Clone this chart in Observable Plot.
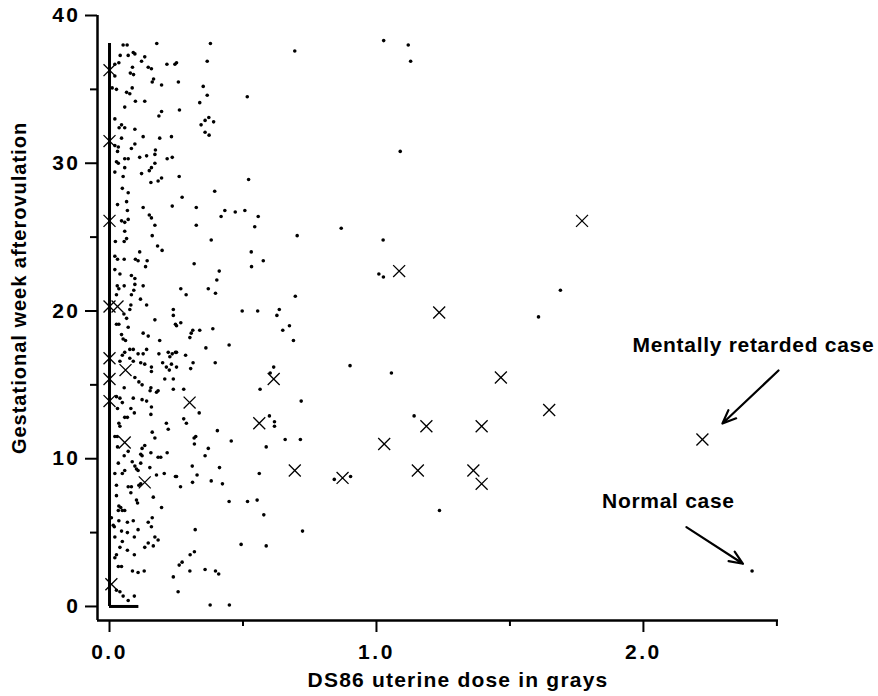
<!DOCTYPE html>
<html><head><meta charset="utf-8">
<script src="https://cdn.jsdelivr.net/npm/d3@7"></script>
<script src="https://cdn.jsdelivr.net/npm/@observablehq/plot@0.6"></script>
<style>
html,body{margin:0;padding:0;background:#fff;}
</style></head><body><div id="chart"></div>
<script>
// [dose (Gy), gestational week] — normal outcomes (dots)
const normalCases = [
[0.378,38.1],[0.694,37.6],[0.251,36.8],[0.366,36.9],[0.258,35.5],[0.351,35.2],[0.366,34.6],[0.516,34.5],[0.338,34.1],[0.262,33.6],[0.372,33.1],[0.358,32.9],[0.390,32.8],[0.343,32.6],[0.358,32.1],[0.373,31.9],[0.261,29.1],[0.521,28.9],[0.394,28.1],[0.272,27.7],[0.325,27.0],[0.432,26.8],[0.471,26.7],[0.507,26.8],[0.418,26.4],[0.557,26.4],[0.325,25.8],[0.544,25.7],
[0.703,25.1],[0.381,24.8],[0.531,24.0],[0.576,23.4],[0.317,23.2],[0.532,23.0],[0.411,22.7],[0.402,22.1],[0.267,21.5],[0.370,21.5],[0.287,21.1],[0.397,21.2],[0.696,21.0],[0.497,20.0],[0.555,20.0],[0.636,20.1],[0.627,19.7],[0.251,19.0],[0.267,19.2],[0.312,18.7],[0.306,18.5],[0.301,18.2],[0.338,18.7],[0.387,18.8],[0.674,19.0],[0.649,18.7],[0.689,18.0],[0.448,17.7],[0.361,17.5],[0.251,17.2],[0.285,17.0],[0.313,16.5],[0.251,16.2],[0.304,16.1],[0.396,16.5],[0.615,16.2],[0.602,15.8],[0.278,14.7],[0.564,14.7],[0.718,13.9],[0.336,13.1],[0.278,12.7],[0.288,12.4],[0.599,12.9],[0.618,12.5],[0.618,12.2],
[0.404,11.9],[0.323,11.5],[0.317,11.4],[0.318,11.0],[0.456,11.2],[0.370,10.7],[0.358,10.2],[0.587,10.8],[0.658,11.3],[0.715,11.3],[0.310,9.5],[0.412,9.4],[0.251,8.8],[0.328,8.9],[0.311,8.4],[0.266,8.1],[0.381,8.5],[0.423,8.3],[0.561,9.0],[0.842,8.6],[0.448,7.1],[0.517,7.1],[0.553,7.2],[0.578,6.2],[0.321,5.2],[0.723,5.1],[0.493,4.2],[0.587,4.1],[0.318,3.7],[0.302,3.5],[0.272,3.0],[0.261,2.8],[0.301,2.4],[0.358,2.5],[0.397,2.4],[0.409,2.2],[0.257,1.0],[0.377,0.1],[0.449,0.1],
[1.027,38.3],[1.119,38.0],[1.128,36.9],[1.089,30.8],[0.868,25.6],[1.025,24.8],[1.009,22.5],[1.026,22.3],[1.689,21.4],[1.607,19.6],[0.901,16.3],[1.056,15.8],[1.141,12.9],[0.903,8.8],[1.236,6.5],[2.407,2.4],
[0.051,38.0],[0.066,38.0],[0.177,38.1],[0.089,37.5],[0.095,37.4],[0.040,37.3],[0.070,37.3],[0.132,37.2],[0.120,36.9],[0.215,36.7],[0.245,36.7],[0.035,36.8],[0.020,36.7],[0.086,36.5],[0.145,36.5],[0.157,36.4],[0.078,36.1],[0.090,36.0],[0.020,35.9],[0.165,35.7],[0.160,35.5],[0.195,35.3],[0.010,35.1],[0.026,35.0],[0.064,34.8],[0.076,34.7],[0.085,35.1],[0.097,34.2],[0.132,34.2],[0.057,33.8],[0.195,33.5],[0.185,33.2],[0.020,33.0],[0.045,32.6],[0.057,32.4],[0.095,32.3],[0.036,32.4],[0.126,31.8],[0.188,31.7],[0.232,31.8],[0.045,31.7],[0.020,31.2],[0.033,31.1],[0.095,31.3],[0.082,31.0],[0.172,30.9],[0.030,30.8],[0.113,30.4],[0.139,30.5],[0.170,30.6],[0.057,30.3],[0.070,30.3],[0.026,30.1],[0.033,30.0],[0.235,30.4],[0.216,30.3],[0.170,30.0],[0.157,29.7],[0.057,29.7],[0.020,29.4],[0.120,29.3],[0.149,29.5],[0.195,29.0],[0.182,28.8],[0.155,28.7],[0.051,29.1],[0.048,28.3],[0.070,28.0],[0.030,27.2],[0.064,27.4],[0.067,26.8],[0.126,27.0],[0.235,27.1],[0.149,26.5],[0.157,26.3],[0.045,26.1],[0.057,26.0],[0.070,26.2],[0.170,25.8],
[0.057,25.4],[0.064,24.9],[0.055,24.7],[0.022,24.7],[0.160,25.1],[0.180,24.4],[0.197,24.1],[0.020,23.7],[0.030,23.5],[0.055,23.5],[0.113,24.0],[0.097,23.5],[0.107,23.4],[0.141,23.4],[0.135,23.0],[0.020,22.8],[0.039,22.5],[0.082,22.4],[0.095,22.2],[0.029,21.7],[0.035,21.5],[0.055,21.7],[0.095,21.8],[0.126,21.7],[0.091,21.4],[0.082,21.1],[0.026,21.1],[0.116,20.8],[0.139,20.4],[0.080,20.4],[0.076,20.1],[0.239,20.1],[0.239,19.7],[0.054,19.8],[0.064,19.5],[0.026,19.1],[0.035,19.1],[0.170,19.4],[0.247,19.1],[0.070,18.9],[0.045,18.4],[0.051,18.1],[0.060,18.0],[0.126,18.5],[0.145,18.3],[0.188,18.0],[0.076,17.4],[0.089,17.4],[0.057,17.2],[0.048,17.0],[0.139,17.4],[0.126,17.1],[0.107,17.1],[0.185,17.1],[0.220,17.2],[0.235,17.1],[0.226,16.9],[0.247,17.2],[0.039,16.6],[0.076,16.8],[0.089,16.6],[0.117,16.5],[0.132,16.4],[0.157,16.2],[0.199,16.5],[0.213,16.2],[0.232,16.4],[0.224,16.0],[0.157,15.9],[0.095,15.5],[0.110,15.2],[0.122,15.0],[0.207,15.4],[0.239,15.4],[0.155,14.8],[0.152,14.6],[0.182,14.6],[0.176,14.5],[0.055,14.8],[0.239,14.7],[0.026,14.2],[0.039,14.1],[0.048,13.8],[0.089,14.1],[0.122,14.0],[0.139,13.9],[0.157,13.5],[0.080,13.4],[0.030,13.4],[0.093,13.1],[0.155,13.0],[0.057,12.8],[0.067,12.8],[0.213,12.4],[0.035,12.4],
[0.039,12.2],[0.220,12.0],[0.160,11.8],[0.170,11.4],[0.020,11.5],[0.029,11.5],[0.070,10.5],[0.055,10.2],[0.030,10.8],[0.122,10.7],[0.132,10.9],[0.117,10.3],[0.122,10.2],[0.155,10.4],[0.182,10.1],[0.192,10.1],[0.216,10.4],[0.033,9.7],[0.085,9.8],[0.095,9.5],[0.101,9.3],[0.107,9.2],[0.117,9.7],[0.151,9.4],[0.057,9.2],[0.048,9.0],[0.020,9.0],[0.176,8.9],[0.205,9.0],[0.247,8.8],[0.026,8.2],[0.070,8.1],[0.082,8.1],[0.110,8.2],[0.117,8.3],[0.080,7.7],[0.026,7.5],[0.164,7.4],[0.101,7.2],[0.105,7.0],[0.035,6.8],[0.042,6.7],[0.033,6.5],[0.048,6.5],[0.057,6.5],[0.195,6.7],[0.007,6.0],[0.160,6.0],[0.035,5.8],[0.067,5.7],[0.089,5.8],[0.145,5.7],[0.014,5.5],[0.018,5.4],[0.107,5.2],[0.157,5.4],[0.045,5.1],[0.067,5.0],[0.093,4.7],[0.020,4.7],[0.170,4.7],[0.182,4.5],[0.048,4.4],[0.145,4.3],[0.164,4.1],[0.132,4.0],[0.039,4.0],[0.067,3.8],[0.026,3.5],[0.020,3.3],[0.093,3.5],[0.033,2.7],[0.045,2.7],[0.086,2.4],[0.107,2.3],[0.130,2.4],[0.239,2.0],[0.026,1.1],[0.039,1.0],[0.051,0.7],[0.093,0.7],[0.070,0.4]
];

// [dose (Gy), gestational week] — mentally retarded cases (crosses)
const retardedCases = [
[0,36.3],[0,31.5],[0,26.1],[0,20.3],[0.030,20.3],[0,16.8],[0.060,16.0],[0,15.4],[0,13.9],[0.057,11.1],[0.132,8.4],[0.007,1.5],
[0.300,13.8],[0.561,12.4],[0.615,15.4],[0.694,9.2],[0.873,8.7],[1.029,11.0],[1.085,22.7],[1.155,9.2],[1.187,12.2],[1.235,19.9],
[1.363,9.2],[1.394,12.2],[1.394,8.3],[1.466,15.5],[1.647,13.3],[1.770,26.1],[2.221,11.3]
];

// dense runs of overlapping zero-dose / zero-week cases
const zeroDoseWeeks = [0, 38.1];
const zeroWeekDoses = [0, 0.11];

const xTicksMajor = [0, 1, 2];
const xTicksMinor = [0.5, 1.5, 2.5];
const yTicksMajor = [0, 10, 20, 30, 40];
const yTicksMinor = [5, 15, 25, 35];
const xDomain = [-0.045, 2.506];
const yDomain = [-0.95, 40];

const xTitle = "DS86 uterine dose in grays";
const yTitle = "Gestational week afterovulation";

const annotationLabels = ["Mentally retarded case", "Normal case"];
const annotationTextX = [1.959, 1.845];
const annotationTextY = [17.7, 7.12];
const arrowFrom = [[2.506, 15.97], [2.161, 5.37]];
const arrowTo = [[2.296, 12.38], [2.373, 2.89]];

const dots = normalCases.map(([dose, week]) => ({dose, week}));
const crosses = retardedCases.map(([dose, week]) => ({dose, week}));
const annotations = annotationLabels.map((text, i) => ({
  text, x: annotationTextX[i], y: annotationTextY[i],
  x1: arrowFrom[i][0], y1: arrowFrom[i][1], x2: arrowTo[i][0], y2: arrowTo[i][1]
}));

const FONT = "'Liberation Sans', Arial, Helvetica, sans-serif";

const chart = Plot.plot({
  width: 878,
  height: 696,
  marginLeft: 97,
  marginRight: 100,
  marginTop: 15,
  marginBottom: 76,
  x: {domain: xDomain},
  y: {domain: yDomain},
  style: {fontFamily: FONT, fontSize: "20px", color: "#000", background: "#fff", overflow: "visible"},
  marks: [
    Plot.ruleX([xDomain[0]], {stroke: "#000", strokeWidth: 2.5}),
    Plot.ruleY([yDomain[0]], {stroke: "#000", strokeWidth: 2.5}),
    Plot.axisY(yTicksMajor, {anchor: "left", tickSize: 12, tickPadding: 5, strokeWidth: 2, tickFormat: d3.format("d"), fontWeight: "bold", fontSize: 21, label: null}),
    Plot.axisY(yTicksMinor, {anchor: "left", tickSize: 7, strokeWidth: 2, tickFormat: () => "", label: null}),
    Plot.axisX(xTicksMajor, {anchor: "bottom", tickSize: 12, tickPadding: 12, strokeWidth: 2, tickFormat: d3.format(".1f"), fontWeight: "bold", fontSize: 21, label: null}),
    Plot.axisX(xTicksMinor, {anchor: "bottom", tickSize: 6, strokeWidth: 2, tickFormat: () => "", label: null}),
    Plot.ruleX([{dose: 0, from: zeroDoseWeeks[0], to: zeroDoseWeeks[1]}], {x: "dose", y1: "from", y2: "to", stroke: "#000", strokeWidth: 3}),
    Plot.ruleY([{week: 0, from: zeroWeekDoses[0], to: zeroWeekDoses[1]}], {y: "week", x1: "from", x2: "to", stroke: "#000", strokeWidth: 3}),
    Plot.dot(dots, {x: "dose", y: "week", r: 1.8, fill: "#000", stroke: null}),
    Plot.dot(crosses, {x: "dose", y: "week", symbol: "times", r: 5.5, stroke: "#000", strokeWidth: 1.3}),
    Plot.arrow(annotations, {x1: "x1", y1: "y1", x2: "x2", y2: "y2", stroke: "#000", strokeWidth: 2.2, headLength: 10, headAngle: 45}),
    Plot.text(annotations, {x: "x", y: "y", text: "text", textAnchor: "start", fontWeight: "bold", fontSize: 21, fill: "#000"}),
    Plot.text([xTitle], {text: d => d, frameAnchor: "bottom", textAnchor: "middle", dx: 20, dy: 66, fontWeight: "bold", fontSize: 21, fill: "#000"}),
    Plot.text([yTitle], {text: d => d, frameAnchor: "left", textAnchor: "middle", rotate: -90, dx: -78, dy: -30, fontWeight: "bold", fontSize: 20, fill: "#000"})
  ]
});
// letter spacing to mimic the wide typeface of the original
chart.querySelectorAll("text").forEach(t => {
  const s = t.textContent;
  let ls = null;
  if (/^[0-9.]+$/.test(s)) ls = "2.5px";
  else if (annotationLabels.includes(s)) ls = "0.7px";
  else if (s === xTitle) ls = "1.2px";
  else if (s === yTitle) ls = "1px";
  if (ls) t.style.letterSpacing = ls;
});
document.getElementById("chart").appendChild(chart);
</script>
</body></html>
